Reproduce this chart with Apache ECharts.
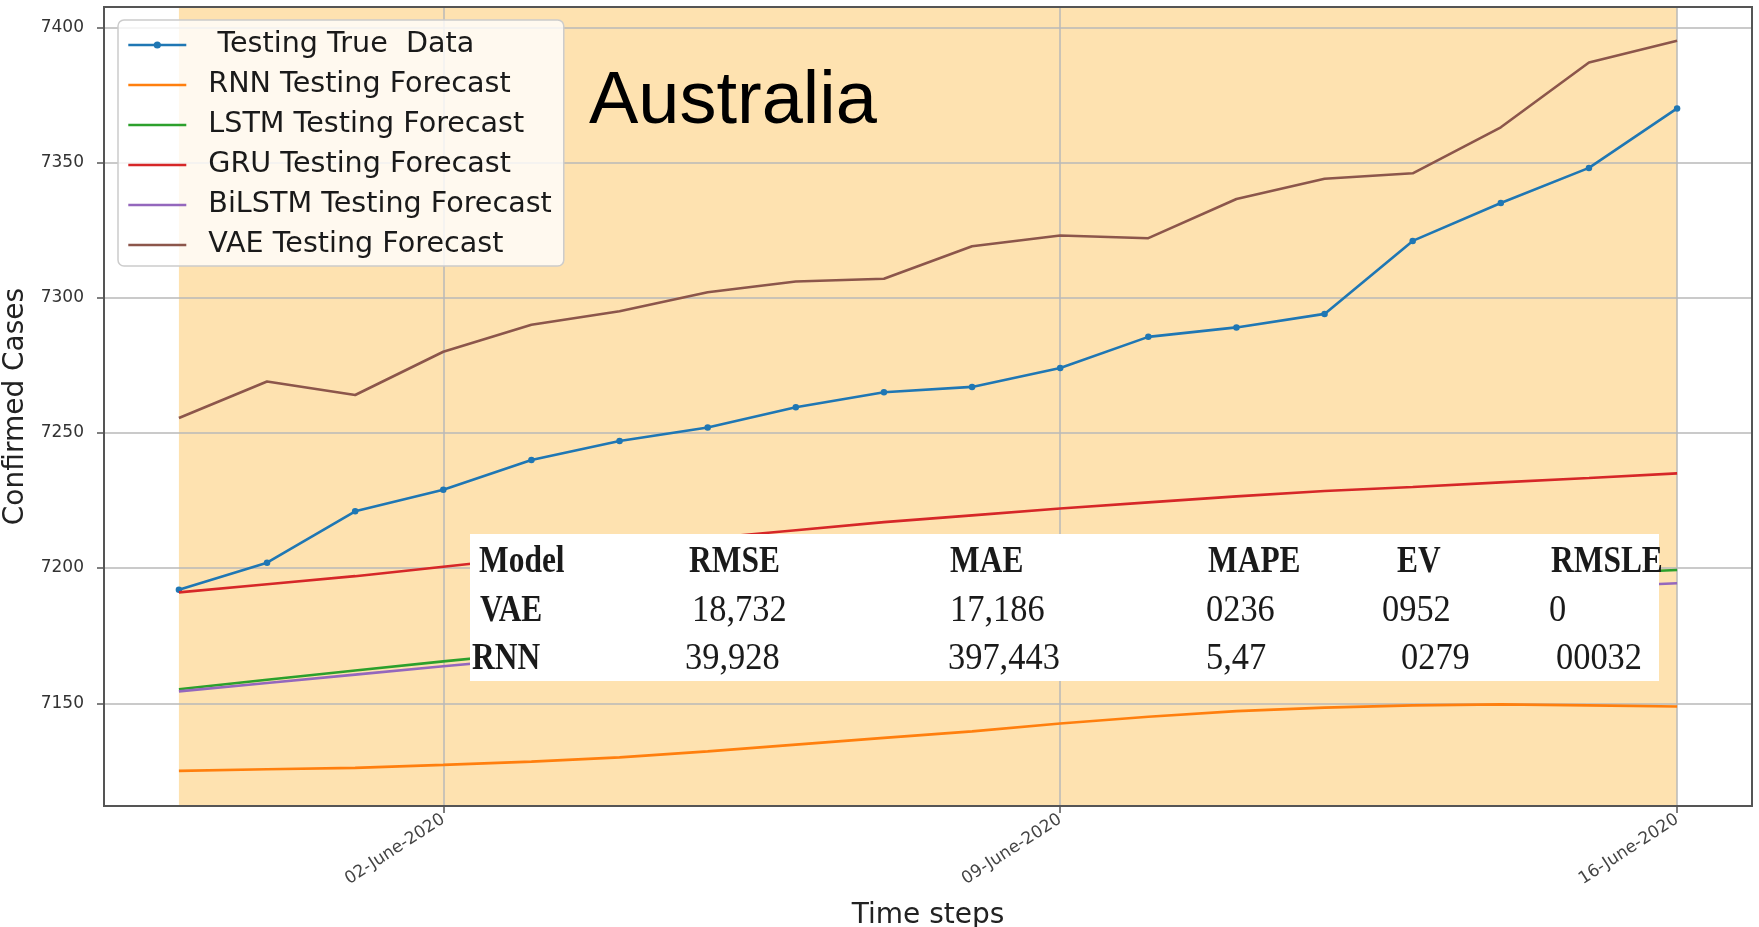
<!DOCTYPE html>
<html>
<head>
<meta charset="utf-8">
<script src="https://cdn.jsdelivr.net/npm/echarts@6/dist/echarts.min.js"></script>
<style>html,body{margin:0;padding:0;background:#fff}#c{width:1759px;height:927px}</style>
</head>
<body>
<div id="c"></div>
<script>
// ---- data ----
var dates = ['30-May-2020','31-May-2020','01-June-2020','02-June-2020','03-June-2020','04-June-2020','05-June-2020','06-June-2020','07-June-2020','08-June-2020','09-June-2020','10-June-2020','11-June-2020','12-June-2020','13-June-2020','14-June-2020','15-June-2020','16-June-2020'];
var tickDays = [3, 10, 17];
var tickLabels = ['02-June-2020', '09-June-2020', '16-June-2020'];
var yTicks = [7150, 7200, 7250, 7300, 7350, 7400];
var trueData = [7192, 7202, 7221, 7229, 7240, 7247, 7252, 7259.5, 7265, 7267, 7274, 7285.5, 7289, 7294, 7321, 7335, 7348, 7370];
var rnnData = [7125, 7125.6, 7126.1, 7127.2, 7128.4, 7130.0, 7132.2, 7134.7, 7137.2, 7139.6, 7142.5, 7145.0, 7147.1, 7148.4, 7149.2, 7149.6, 7149.2, 7148.8];
var lstmData = [7155.2, 7158.7, 7162.1, 7165.5, 7168.7, 7171.8, 7174.8, 7177.7, 7180.5, 7183.2, 7185.8, 7188.3, 7190.6, 7192.8, 7194.6, 7196.3, 7197.9, 7199.3];
var gruData = [7191, 7194, 7197, 7200.5, 7204, 7207.5, 7211, 7214, 7217, 7219.5, 7222, 7224.3, 7226.5, 7228.5, 7230, 7231.7, 7233.3, 7235];
var bilstmData = [7154.4, 7157.5, 7160.6, 7163.7, 7166.6, 7169.4, 7172.1, 7174.7, 7177.2, 7179.6, 7181.9, 7184.1, 7186.2, 7188.1, 7189.9, 7191.5, 7193.0, 7194.4];
var vaeData = [7255.5, 7269, 7264, 7280, 7290, 7295, 7302, 7306, 7307, 7319, 7323, 7322, 7336.5, 7344, 7346, 7363, 7387, 7395];
var seriesNames = [' Testing True  Data', 'RNN Testing Forecast', 'LSTM Testing Forecast', 'GRU Testing Forecast', 'BiLSTM Testing Forecast', 'VAE Testing Forecast'];
var seriesColors = ['#1f77b4', '#ff7f0e', '#2ca02c', '#d62728', '#9467bd', '#8c564b'];
var tableHeader = ['Model', 'RMSE', 'MAE', 'MAPE', 'EV', 'RMSLE'];
var tableRowVAE = ['VAE', '18,732', '17,186', '0236', '0952', '0'];
var tableRowRNN = ['RNN', '39,928', '397,443', '5,47', '0279', '00032'];
var titleText = 'Australia';

// ---- build ----
function pairs(arr) { return arr.map(function (v, i) { return [i, v]; }); }
var allData = [trueData, rnnData, lstmData, gruData, bilstmData, vaeData];

var series = allData.map(function (d, k) {
  var s = {
    name: seriesNames[k],
    type: 'line',
    data: pairs(d),
    color: seriesColors[k],
    lineStyle: { width: 2.6, color: seriesColors[k] },
    itemStyle: { color: seriesColors[k] },
    symbol: k === 0 ? 'circle' : 'none',
    symbolSize: 6.5,
    showSymbol: k === 0,
    animation: false,
    z: 2 + k * 0.01
  };
  if (k === 0) {
    s.markArea = {
      silent: true,
      itemStyle: { color: '#fee2b0' },
      data: [[{ xAxis: 0 }, { xAxis: dates.length - 1 }]]
    };
  }
  return s;
});

var legendData = seriesNames.map(function (n, k) {
  return k === 0 ? { name: n } : { name: n, itemStyle: { opacity: 0 } };
});

var graphics = [];
graphics.push({
  type: 'text', x: 589, y: 103, z: 100,
  style: { text: titleText, fontSize: 74, fontFamily: 'Liberation Sans', fill: '#000', verticalAlign: 'middle' }
});
graphics.push({
  type: 'rect', z: 100,
  shape: { x: 470, y: 534, width: 1189, height: 147 },
  style: { fill: '#fff' }
});
var colX = [
  [479, 689, 950, 1208, 1397, 1551],
  [480, 692, 950, 1206, 1382, 1549],
  [472, 685, 948, 1206, 1401, 1556]
];
var rowY = [562, 611, 659];
var rows = [tableHeader, tableRowVAE, tableRowRNN];
rows.forEach(function (row, r) {
  row.forEach(function (t, c) {
    var bold = (r === 0 || c === 0);
    graphics.push({
      type: 'text', x: colX[r][c], y: rowY[r], z: 101, scaleX: bold ? 0.85 : 0.93,
      style: {
        text: t, fontSize: 37, fontFamily: 'Liberation Serif',
        fontWeight: bold ? 'bold' : 'normal', fill: '#1a1a1a', verticalAlign: 'middle'
      }
    });
  });
});

var chart = echarts.init(document.getElementById('c'), null, { renderer: 'canvas' });
chart.setOption({
  animation: false,
  backgroundColor: '#fff',
  grid: {
    left: 104, right: 7, top: 7, bottom: 121,
    show: true, borderColor: '#555', borderWidth: 2, backgroundColor: 'transparent',
    containLabel: false, outerBoundsMode: 'none', z: 1.6
  },
  xAxis: {
    type: 'value', min: -0.85, max: 17.85, z: 1.5,
    name: 'Time steps', nameLocation: 'middle', nameGap: 96,
    nameTextStyle: { fontSize: 28, fontFamily: 'DejaVu Sans', color: '#222' },
    axisLine: { show: true, onZero: false, lineStyle: { color: '#555', width: 2 } },
    axisTick: { show: true, customValues: tickDays, length: 7, lineStyle: { color: '#555', width: 1.5 } },
    axisLabel: {
      customValues: tickDays, rotate: 33, margin: 12, fontSize: 17, fontFamily: 'DejaVu Sans', color: '#444',
      formatter: function (v) { var i = tickDays.indexOf(v); return i >= 0 ? tickLabels[i] : ''; }
    },
    splitLine: { show: true, lineStyle: { color: '#b8b8b8', width: 1.5 } }
  },
  yAxis: {
    type: 'value', min: 7112, max: 7407.5, z: 1.5,
    name: 'Confirmed Cases', nameLocation: 'middle', nameGap: 65, nameRotate: 90,
    nameTextStyle: { fontSize: 28, fontFamily: 'DejaVu Sans', color: '#222' },
    axisLine: { show: true, onZero: false, lineStyle: { color: '#555', width: 2 } },
    axisTick: { show: true, customValues: yTicks, length: 7, lineStyle: { color: '#555', width: 1.5 } },
    axisLabel: {
      customValues: yTicks, margin: 20, fontSize: 17, fontFamily: 'DejaVu Sans', color: '#333',
      formatter: function (v) { return String(v); }
    },
    splitLine: { show: true, lineStyle: { color: '#b8b8b8', width: 1.5 } }
  },
  legend: {
    orient: 'vertical', left: 118, top: 20,
    data: legendData,
    itemWidth: 58, itemHeight: 9, itemGap: 10,
    padding: [10, 12, 6, 9],
    lineStyle: { width: 2.6 },
    backgroundColor: 'rgba(255,255,255,0.8)', borderColor: '#cccccc', borderWidth: 1.5, borderRadius: 6,
    textStyle: { fontSize: 28.6, fontFamily: 'DejaVu Sans', color: '#1a1a1a', lineHeight: 30, padding: [0, 0, 0, 17] },
    z: 50
  },
  series: series,
  graphic: graphics
});
</script>
</body>
</html>
